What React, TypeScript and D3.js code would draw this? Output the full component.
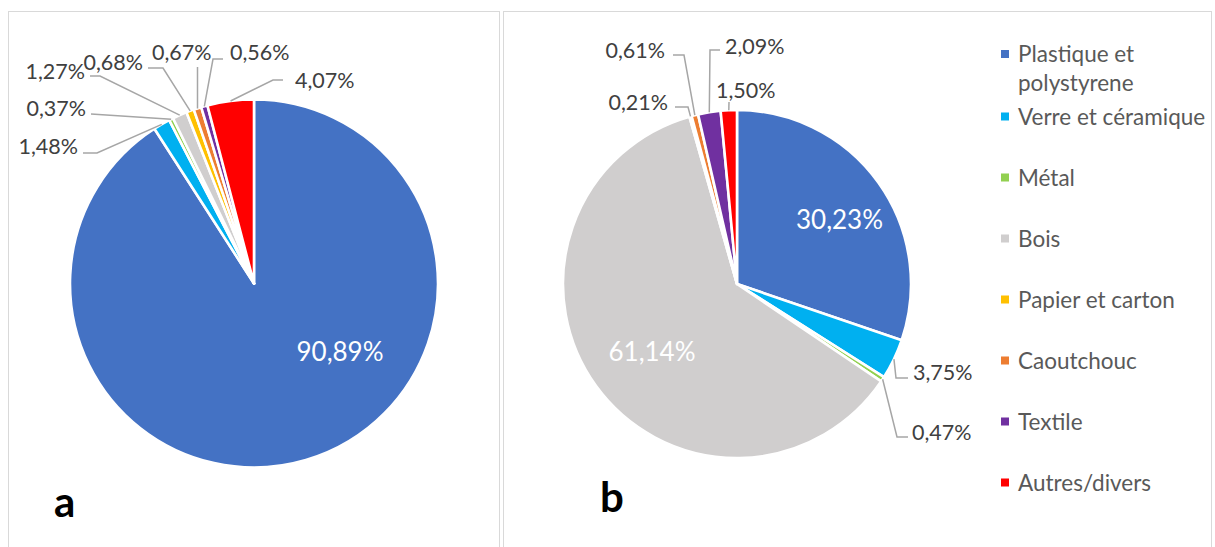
import React from 'react';
import * as d3 from 'd3';

// Waste composition by material, two sampling sites
const categories = [
  'Plastique et polystyrene',
  'Verre et céramique',
  'Métal',
  'Bois',
  'Papier et carton',
  'Caoutchouc',
  'Textile',
  'Autres/divers',
];
const sliceColors = ['#4472C4', '#00B0F0', '#92D050', '#D0CECE', '#FFC000', '#ED7D31', '#7030A0', '#FF0000'];
const valuesA = [90.89, 1.48, 0.37, 1.27, 0.68, 0.67, 0.56, 4.07];
const valuesB = [30.23, 3.75, 0.47, 61.14, 0.21, 0.61, 2.09, 1.5];

type Pt = [number, number];
type LabelSpec = {
  inside?: boolean;
  x: number; // relative to pie centre
  y: number; // vertical centre of the text, relative to pie centre
  anchor: 'start' | 'middle' | 'end';
  leader?: Pt[]; // elbow / end points, relative to pie centre
};

// Label placement for each slice (offsets from the pie centre)
const labelsA: LabelSpec[] = [
  { inside: true, x: 86, y: 68, anchor: 'middle' },
  { x: -176, y: -137.5, anchor: 'end', leader: [[-157, -130.5], [-171, -130.5]] },
  { x: -168, y: -175.5, anchor: 'end', leader: [[-163, -169.5]] },
  { x: -169, y: -212.5, anchor: 'end', leader: [[-154, -207.5], [-164, -207.5]] },
  { x: -111, y: -221, anchor: 'end', leader: [[-91, -215.5], [-106, -215.5]] },
  { x: -102, y: -231.5, anchor: 'start', leader: [[-56.5, -216.5]] },
  { x: -24, y: -231.5, anchor: 'start', leader: [[-41, -224.5], [-31, -224.5]] },
  { x: 41, y: -203.5, anchor: 'start', leader: [[19, -203.5], [29, -203.5]] },
];
const labelsB: LabelSpec[] = [
  { inside: true, x: 102.5, y: -64, anchor: 'middle' },
  { x: 176, y: 88, anchor: 'start', leader: [[159, 94], [171, 94]] },
  { x: 175, y: 148, anchor: 'start', leader: [[160, 153], [171, 153]] },
  { inside: true, x: -85, y: 68, anchor: 'middle' },
  { x: -69, y: -182, anchor: 'end', leader: [[-49, -177], [-62, -177]] },
  { x: -72, y: -234, anchor: 'end', leader: [[-53, -229], [-64, -229]] },
  { x: -12, y: -238, anchor: 'start', leader: [[-27, -234], [-17, -234]] },
  { x: -21, y: -194, anchor: 'start', leader: [[-8, -182]] },
];

const FONT = 'Lato, "Open Sans", sans-serif';
const fmt = (v: number) => v.toFixed(2).replace('.', ',') + '%';

type PieProps = {
  values: number[];
  labels: LabelSpec[];
  cx: number;
  cy: number;
  r: number;
};

function Pie({ values, labels, cx, cy, r }: PieProps) {
  const pie = d3
    .pie<number>()
    .sort(null)
    .value((d) => d)
    .startAngle(0)
    .endAngle(2 * Math.PI);
  const arcs = pie(values);
  const arc = d3.arc<d3.PieArcDatum<number>>().innerRadius(0).outerRadius(r);

  return (
    <g transform={`translate(${cx},${cy})`}>
      {arcs.map((a, i) => (
        <path
          key={categories[i]}
          d={arc(a) || ''}
          fill={sliceColors[i]}
          stroke="#ffffff"
          strokeWidth={2.6}
          strokeLinejoin="round"
        />
      ))}
      {arcs.map((a, i) => {
        const spec = labels[i];
        if (!spec.leader) return null;
        const mid = (a.startAngle + a.endAngle) / 2;
        const start: Pt = [Math.sin(mid) * r, -Math.cos(mid) * r];
        const pts: Pt[] = [start, ...spec.leader];
        return (
          <path
            key={'l' + i}
            d={d3.line()(pts) || ''}
            fill="none"
            stroke="#a6a6a6"
            strokeWidth={1.5}
          />
        );
      })}
      {arcs.map((a, i) => {
        const spec = labels[i];
        return (
          <text
            key={'t' + i}
            x={spec.x}
            y={spec.y}
            dy="0.36em"
            textAnchor={spec.anchor}
            fontFamily={FONT}
            fontSize={spec.inside ? 26 : 21.5}
            fill={spec.inside ? '#ffffff' : '#404040'}
          >
            {fmt(a.data)}
          </text>
        );
      })}
    </g>
  );
}

export default function App() {
  const legendX = 1001;
  const legendY = (i: number) => (i === 0 ? 54 : 116.5 + (i - 1) * 61);
  return (
    <svg
      width={1215}
      height={547}
      style={{ position: 'absolute', left: 0, top: 0, background: '#ffffff' }}
    >
      <rect x={8.5} y={11.5} width={491} height={545} fill="#ffffff" stroke="#d9d9d9" />
      <rect x={503.5} y={11.5} width={708} height={545} fill="#ffffff" stroke="#d9d9d9" />

      <Pie values={valuesA} labels={labelsA} cx={254} cy={283.5} r={184} />
      <Pie values={valuesB} labels={labelsB} cx={737} cy={284} r={174} />

      <g>
        {categories.map((c, i) => {
          const y = legendY(i);
          const words = c.split(' ');
          const lines = i === 0 ? [words.slice(0, 2).join(' '), words.slice(2).join(' ')] : [c];
          return (
            <g key={c}>
              <rect x={legendX} y={y - 4} width={8} height={8} fill={sliceColors[i]} />
              {lines.map((ln, k) => (
                <text
                  key={k}
                  x={legendX + 17}
                  y={y + k * 29}
                  dy="0.36em"
                  fontFamily={FONT}
                  fontSize={22.5}
                  fill="#595959"
                >
                  {ln}
                </text>
              ))}
            </g>
          );
        })}
      </g>

      <text x={54} y={517} fontFamily={FONT} fontWeight={700} fontSize={42} fill="#000000">
        a
      </text>
      <text x={600} y={512} fontFamily={FONT} fontWeight={700} fontSize={42} fill="#000000">
        b
      </text>
    </svg>
  );
}
